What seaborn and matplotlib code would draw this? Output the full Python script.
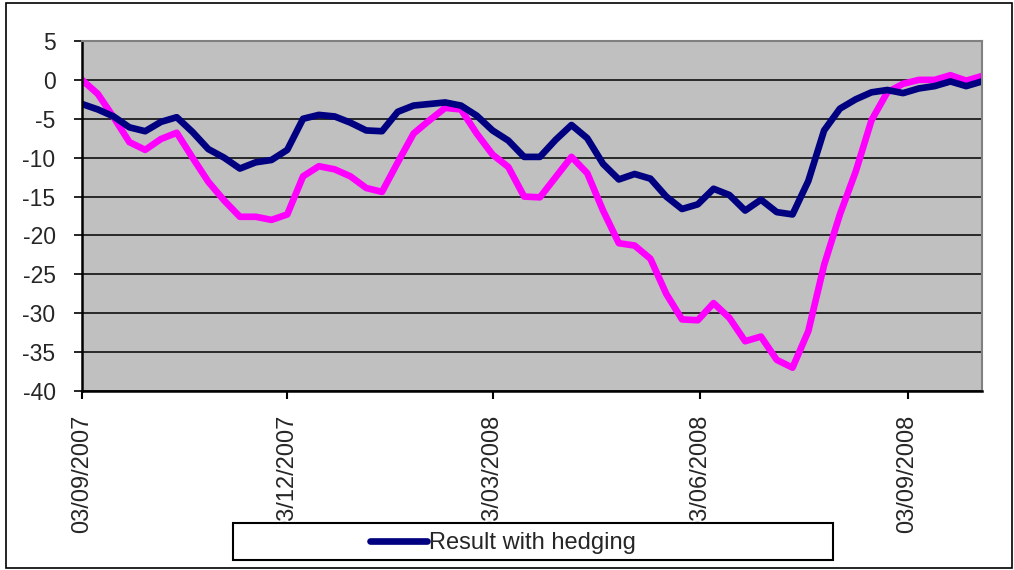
import pandas as pd
import numpy as np
import matplotlib
matplotlib.use("Agg")
import matplotlib.pyplot as plt
import matplotlib.dates as mdates
from matplotlib.patches import Rectangle
import seaborn as sns

# DATA (weekly)

dates = pd.date_range("2007-09-03", periods=58, freq="7D")

with_hedging = [
    -3.1, -3.8, -4.7, -6.1, -6.6, -5.4, -4.8, -6.7, -8.9, -10.0,
    -11.4, -10.6, -10.3, -9.0, -5.0, -4.5, -4.7, -5.5, -6.5, -6.6,
    -4.1, -3.3, -3.1, -2.9, -3.3, -4.6, -6.5, -7.8, -9.9, -9.9,
    -7.7, -5.8, -7.5, -10.8, -12.8, -12.1, -12.7, -15.0, -16.6, -16.0,
    -14.0, -14.8, -16.8, -15.4, -17.0, -17.3, -13.0, -6.5, -3.7, -2.5,
    -1.6, -1.3, -1.7, -1.1, -0.8, -0.2, -0.8, -0.2
]

without_hedging = [
    0.0, -1.8, -4.8, -8.0, -9.0, -7.6, -6.8, -10.0, -13.1, -15.5,
    -17.6, -17.6, -18.0, -17.3, -12.4, -11.1, -11.5, -12.4, -13.9, -14.4,
    -10.6, -6.9, -5.2, -3.6, -3.8, -6.9, -9.6, -11.2, -15.0, -15.1,
    -12.5, -9.9, -12.0, -16.8, -21.0, -21.3, -23.0, -27.5, -30.8, -30.9,
    -28.7, -30.6, -33.6, -33.0, -36.0, -37.0, -32.3, -23.8, -17.3, -11.8,
    -5.2, -1.6, -0.5, 0.0, 0.0, 0.6, -0.1, 0.5
]

tick_dates = pd.to_datetime(["2007-09-03", "2007-12-03", "2008-03-03",
                             "2008-06-03", "2008-09-03"])
y_ticks = [5, 0, -5, -10, -15, -20, -25, -30, -35, -40]

df = pd.DataFrame({
    "date": dates,
    "with": with_hedging,
    "without": without_hedging
})

# PLOT

sns.set_style("white")
plt.rcParams["font.family"] = ["Liberation Sans", "DejaVu Sans"]
plt.rcParams["axes.unicode_minus"] = False

fig = plt.figure(figsize=(10.14, 5.70), dpi=100)
ax = fig.add_axes([82/1014, 1 - 391/570, (982 - 82)/1014, (391 - 41)/570])
ax.set_facecolor("#C0C0C0")

sns.lineplot(data=df, x="date", y="without", ax=ax, color="#FF00FF",
             linewidth=4.8, solid_capstyle="round", solid_joinstyle="round",
             legend=False)
sns.lineplot(data=df, x="date", y="with", ax=ax, color="#000080",
             linewidth=4.8, solid_capstyle="round", solid_joinstyle="round",
             label="Result with hedging", legend=False)

ax.set_xlim(dates[0], dates[-1])
ax.set_ylim(-40, 5)
ax.set_yticks(y_ticks)
ax.set_xticks(tick_dates)
ax.xaxis.set_major_formatter(mdates.DateFormatter("%d/%m/%Y"))
ax.set_xlabel("")
ax.set_ylabel("")

ax.yaxis.grid(True, color="black", linewidth=1.1)
ax.set_axisbelow(True)

ax.tick_params(axis="y", direction="out", length=6, width=1.2,
               labelsize=16.5, pad=13, color="black", left=True)
ax.tick_params(axis="x", direction="out", length=6, width=1.5,
               labelsize=17, pad=11, color="black", bottom=True,
               labelrotation=90)

for side in ["left", "bottom"]:
    ax.spines[side].set_color("black")
    ax.spines[side].set_linewidth(1.8)
for side in ["top", "right"]:
    ax.spines[side].set_color("#808080")
    ax.spines[side].set_linewidth(1.5)

# legend box
fig.patches.append(Rectangle((233/1014, 1 - 560/570), 600/1014, 37/570,
                             transform=fig.transFigure, facecolor="white",
                             edgecolor="black", linewidth=1.5, zorder=5))
handles, labels = ax.get_legend_handles_labels()
leg = fig.legend(handles, labels, loc="center",
                 bbox_to_anchor=(503/1014, 1 - 543/570),
                 frameon=False, fontsize=17, handlelength=2.4,
                 handletextpad=0.1)
leg.set_zorder(6)

# outer chart border
fig.patches.append(Rectangle((6/1014, 1 - 568/570), 1006/1014, 565/570,
                             transform=fig.transFigure, fill=False,
                             edgecolor="black", linewidth=1.2))

fig.savefig("out.png", dpi=100)
